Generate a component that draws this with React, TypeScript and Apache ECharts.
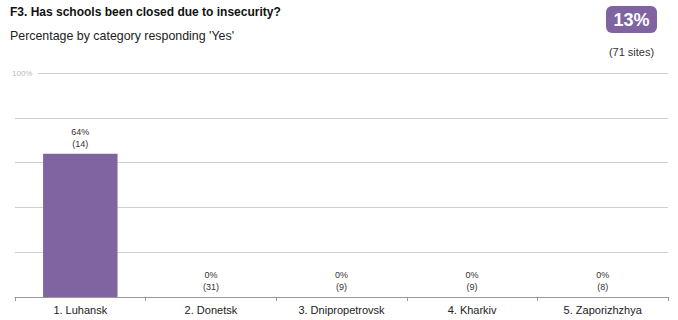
import React, { useEffect, useRef } from "react";
import * as echarts from "echarts";

const categories = ["1. Luhansk", "2. Donetsk", "3. Dnipropetrovsk", "4. Kharkiv", "5. Zaporizhzhya"];
const percentValues = [64, 0, 0, 0, 0];
const counts = [14, 31, 9, 9, 8];
const titleText = "F3. Has schools been closed due to insecurity?";
const subtitleText = "Percentage by category responding 'Yes'";
const overallPct = "13%";
const overallSites = "(71 sites)";

export default function App() {
  const ref = useRef<HTMLDivElement>(null);
  useEffect(() => {
    if (!ref.current) return;
    const chart = echarts.init(ref.current, null, { renderer: "svg" });
    const font = "Liberation Sans, Arial, sans-serif";
    chart.setOption({
      animation: false,
      textStyle: { fontFamily: font },
      grid: { left: 15, right: 10, top: 73, bottom: 23, containLabel: false },
      xAxis: {
        type: "category",
        data: categories,
        axisLine: { lineStyle: { color: "#999", width: 1 } },
        axisTick: { show: true, length: 4, lineStyle: { color: "#999" } },
        axisLabel: { color: "#222", fontSize: 11, margin: 7, fontFamily: font },
      },
      yAxis: {
        type: "value",
        min: 0,
        max: 100,
        interval: 20,
        axisLabel: { show: false },
        axisLine: { show: false },
        axisTick: { show: false },
        splitLine: { lineStyle: { color: "#d0d0d0", width: 1 } },
      },
      series: [
        {
          type: "bar",
          data: percentValues,
          barWidth: "57%",
          itemStyle: { color: "#8064A2" },
          label: {
            show: true,
            position: "top",
            distance: 4,
            fontSize: 9,
            lineHeight: 12,
            color: "#333",
            fontFamily: font,
            formatter: (p: any) => `${p.value}%\n(${counts[p.dataIndex]})`,
          },
        },
      ],
      graphic: [
        { type: "rect", shape: { x: 12, y: 67, width: 26, height: 12 }, style: { fill: "#fff" }, z: 100 },
        {
          type: "text",
          x: 12,
          y: 73,
          style: { text: "100%", fontSize: 8, fill: "#bbb", fontFamily: font, verticalAlign: "middle" },
          z: 101,
        },
        {
          type: "text",
          x: 10,
          y: 6,
          style: { text: titleText, fontSize: 12, fontWeight: "bold", fill: "#111", fontFamily: font },
        },
        {
          type: "text",
          x: 10,
          y: 30,
          style: { text: subtitleText, fontSize: 12.4, fill: "#222", fontFamily: font },
        },
        {
          type: "rect",
          shape: { x: 606, y: 6, width: 51, height: 27, r: 6 },
          style: { fill: "#8064A2" },
        },
        {
          type: "text",
          x: 631.5,
          y: 20,
          style: {
            text: overallPct,
            fontSize: 18,
            fontWeight: "bold",
            fill: "#fff",
            align: "center",
            verticalAlign: "middle",
            fontFamily: font,
          },
        },
        {
          type: "text",
          x: 631.5,
          y: 52,
          style: { text: overallSites, fontSize: 11, fill: "#333", align: "center", verticalAlign: "middle", fontFamily: font },
        },
      ],
    });
    return () => chart.dispose();
  }, []);
  return <div ref={ref} style={{ width: 678, height: 320, position: "absolute", left: 0, top: 0 }} />;
}
